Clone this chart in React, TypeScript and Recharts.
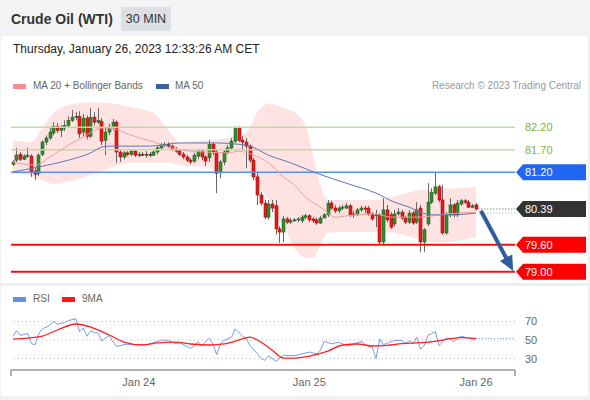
import React from 'react'
import { ComposedChart, Bar, Line, Area, XAxis, YAxis, ReferenceLine } from 'recharts'

// 30 min candles, index 0 = first bar on the left
const opens = [
  81.38, 81.47, 81.6, 81.49, 81.56, 81.56, 81.23, 81.18, 81.6, 81.87,
  81.96, 82.07, 82.22, 82.13, 82.18, 82.24, 82.35, 82.42, 82.44, 82.09,
  82.4, 82.0, 82.42, 82.31, 82.33, 81.91, 82.09, 82.2, 82.31, 81.65,
  81.54, 81.63, 81.6, 81.67, 81.58, 81.6, 81.58, 81.6, 81.58, 81.65,
  81.74, 81.8, 81.82, 81.78, 81.71, 81.67, 81.6, 81.54, 81.47, 81.45,
  81.56, 81.67, 81.54, 81.52, 81.82, 81.65, 81.21, 81.43, 81.65, 81.74,
  81.89, 82.18, 81.91, 81.87, 81.78, 81.47, 81.1, 80.7, 80.52, 80.21,
  80.5, 80.46, 79.95, 79.88, 80.17, 80.1, 80.13, 80.15, 80.13, 80.21,
  80.24, 80.17, 80.15, 80.08, 80.19, 80.26, 80.52, 80.41, 80.35, 80.41,
  80.41, 80.46, 80.28, 80.26, 80.37, 80.41, 80.41, 80.28, 80.24, 80.24,
  79.66, 80.37, 80.26, 80.06, 80.28, 80.32, 80.19, 80.1, 80.3, 80.1,
  80.41, 79.66, 80.06, 80.54, 80.74, 80.88, 80.59, 79.86, 80.26, 80.48,
  80.26, 80.5, 80.57, 80.54, 80.43, 80.48,
]
const highs = [
  81.47, 81.74, 81.65, 81.6, 81.74, 81.6, 81.29, 81.63, 81.91, 82.02,
  82.18, 82.31, 82.29, 82.24, 82.35, 82.44, 82.58, 82.53, 82.55, 82.49,
  82.46, 82.62, 82.53, 82.62, 82.4, 82.18, 82.27, 82.38, 82.35, 81.69,
  81.67, 81.67, 81.71, 81.71, 81.65, 81.65, 81.67, 81.65, 81.69, 81.78,
  81.85, 81.87, 81.87, 81.82, 81.76, 81.71, 81.65, 81.58, 81.52, 81.63,
  81.71, 81.71, 81.58, 81.91, 81.87, 81.69, 81.47, 81.69, 81.8, 81.96,
  82.22, 82.22, 82.0, 81.96, 81.82, 81.52, 81.18, 80.76, 80.59, 80.59,
  80.59, 80.59, 80.01, 80.24, 80.21, 80.19, 80.19, 80.21, 80.26, 80.28,
  80.28, 80.21, 80.19, 80.24, 80.3, 80.59, 80.57, 80.48, 80.46, 80.48,
  80.52, 80.5, 80.35, 80.41, 80.46, 80.46, 80.46, 80.32, 80.37, 80.3,
  80.63, 80.48, 80.32, 80.37, 80.41, 80.37, 80.24, 80.37, 80.35, 80.54,
  80.48, 79.97, 80.96, 80.85, 81.21, 80.92, 80.92, 80.32, 80.63, 80.52,
  80.59, 80.61, 80.61, 80.59, 80.5, 80.52,
]
const lows = [
  81.34, 81.43, 81.45, 81.47, 81.52, 81.1, 81.03, 81.12, 81.56, 81.8,
  81.91, 82.02, 82.07, 81.98, 82.11, 82.2, 82.31, 82.35, 81.96, 82.0,
  81.93, 81.96, 82.24, 82.27, 81.8, 81.58, 82.02, 82.13, 81.41, 81.43,
  81.49, 81.56, 81.56, 81.54, 81.54, 81.56, 81.52, 81.54, 81.56, 81.6,
  81.69, 81.76, 81.74, 81.67, 81.63, 81.56, 81.49, 81.43, 81.38, 81.41,
  81.49, 81.47, 81.34, 81.43, 81.58, 80.74, 81.07, 81.36, 81.6, 81.69,
  81.85, 81.87, 81.69, 81.29, 81.41, 81.03, 80.48, 80.46, 80.17, 80.15,
  80.32, 79.82, 79.64, 79.66, 80.06, 80.06, 80.1, 80.1, 80.08, 80.17,
  80.1, 80.08, 80.04, 80.06, 80.19, 80.21, 80.37, 80.3, 80.3, 80.37,
  80.39, 80.21, 80.19, 80.24, 80.32, 80.3, 80.24, 80.13, 79.99, 79.6,
  79.6, 80.1, 79.95, 80.01, 80.24, 80.15, 80.06, 80.06, 80.04, 80.06,
  79.44, 79.44, 80.01, 80.5, 80.7, 80.54, 79.82, 79.82, 80.21, 80.21,
  80.21, 80.46, 80.5, 80.41, 80.41, 80.35,
]
const closes = [
  81.43, 81.58, 81.49, 81.56, 81.58, 81.21, 81.16, 81.58, 81.87, 81.96,
  82.09, 82.22, 82.13, 82.18, 82.24, 82.35, 82.42, 82.44, 82.05, 82.4,
  82.0, 82.42, 82.31, 82.35, 81.89, 82.09, 82.2, 82.31, 81.65, 81.54,
  81.63, 81.6, 81.67, 81.58, 81.6, 81.58, 81.6, 81.58, 81.65, 81.74,
  81.8, 81.82, 81.78, 81.71, 81.67, 81.6, 81.54, 81.47, 81.43, 81.58,
  81.67, 81.54, 81.45, 81.82, 81.65, 81.18, 81.43, 81.65, 81.74, 81.89,
  82.18, 81.91, 81.87, 81.78, 81.47, 81.1, 80.7, 80.52, 80.21, 80.5,
  80.41, 79.95, 79.88, 80.17, 80.1, 80.13, 80.15, 80.17, 80.21, 80.24,
  80.15, 80.13, 80.08, 80.19, 80.26, 80.52, 80.41, 80.35, 80.41, 80.43,
  80.46, 80.26, 80.26, 80.37, 80.41, 80.39, 80.28, 80.17, 80.26, 79.66,
  80.37, 80.15, 79.99, 80.28, 80.32, 80.19, 80.1, 80.3, 80.08, 80.37,
  79.66, 79.93, 80.54, 80.76, 80.88, 80.59, 79.86, 80.26, 80.48, 80.26,
  80.52, 80.57, 80.54, 80.43, 80.46, 80.39,
]

// Bollinger bands (MA 20 +/- 2 sd), read at some bars
const bandIdx = [0, 5, 8, 11, 15, 21, 26, 32, 38, 42, 45, 52, 58, 63, 66, 69, 73, 76, 79, 81, 83, 85, 90, 98, 103, 110, 115, 120, 125]
const bandUpper = [81.91, 81.87, 82.18, 82.51, 82.69, 82.75, 82.73, 82.64, 82.51, 82.13, 81.87, 81.91, 81.96, 82.09, 82.53, 82.73, 82.62, 82.53, 82.24, 81.58, 80.92, 80.59, 80.59, 80.59, 80.68, 80.81, 80.85, 80.85, 80.88]
const bandLower = [81.18, 81.12, 81.03, 80.94, 80.99, 81.14, 81.29, 81.41, 81.41, 81.41, 81.36, 81.32, 81.23, 81.21, 80.92, 80.59, 80.04, 79.53, 79.31, 79.31, 79.6, 79.86, 79.88, 79.88, 79.86, 79.71, 79.64, 79.69, 79.77]

const ma20Idx = [0, 6, 10, 15, 19, 24, 26, 32, 38, 42, 46, 52, 58, 61, 65, 69, 73, 76, 79, 82, 84, 87, 92, 98, 102, 110, 115, 120, 125]
const ma20Vals = [81.43, 81.36, 81.54, 81.8, 81.98, 82.18, 82.18, 82.02, 81.87, 81.76, 81.69, 81.65, 81.63, 81.67, 81.58, 81.41, 81.1, 80.92, 80.65, 80.48, 80.37, 80.21, 80.26, 80.28, 80.21, 80.21, 80.26, 80.3, 80.32]

const ma50Idx = [0, 7, 15, 21, 24, 26, 37, 45, 55, 61, 64, 69, 75, 82, 90, 98, 103, 107, 110, 113, 118, 125]
const ma50Vals = [81.21, 81.32, 81.47, 81.63, 81.76, 81.78, 81.78, 81.85, 81.85, 81.82, 81.78, 81.58, 81.41, 81.18, 80.96, 80.74, 80.54, 80.43, 80.32, 80.26, 80.26, 80.3]

const rsiIdx = [0, 1, 2, 3, 4, 5, 6, 7, 8, 9, 10, 11, 12, 13, 14, 15, 17, 18, 19, 20, 21, 22, 23, 24, 25, 26, 27, 28, 30, 31, 33, 36, 38, 40, 42, 44, 45, 48, 49, 50, 51, 53, 54, 55, 56, 57, 59, 60, 62, 63, 64, 66, 67, 68, 69, 70, 71, 73, 76, 78, 80, 82, 83, 84, 86, 88, 90, 91, 92, 94, 96, 97, 98, 99, 100, 103, 105, 106, 107, 108, 109, 110, 111, 112, 113, 114, 115, 117, 118, 119, 120, 121, 123, 124, 125]
const rsiVals = [54, 60, 55, 56, 57, 46, 45, 57, 62, 64, 66, 70, 67, 68, 69, 71, 73, 59, 63, 54, 60, 58, 57.5, 49, 52, 55, 48, 43, 45, 45, 45, 45, 47, 50, 49.5, 46, 47, 41, 44, 48, 44, 52, 46, 34, 46, 49.5, 53, 62, 54, 51.5, 44, 35, 30, 28, 33, 30, 27, 33.5, 33, 35, 37, 35, 39, 48.5, 46, 47.5, 44, 44, 46, 48.5, 42.5, 42.5, 30, 51, 45, 49.5, 49.5, 46, 49.5, 46, 53, 40, 44, 55, 57, 59, 44, 52, 51.5, 48, 52, 54, 52, 51, 51.5]

const ma9Idx = [0, 8, 12, 17, 21, 26, 30, 35, 39, 44, 48, 53, 57, 62, 64, 66, 67, 69, 70, 73, 76, 80, 85, 89, 93, 97, 101, 105, 110, 114, 118, 121, 125]
const ma9Vals = [51, 54.3, 60.8, 67.3, 64, 55.4, 47.8, 44.6, 46.8, 47.8, 45.7, 44.6, 45.7, 51.1, 53.2, 50, 47.5, 42, 39, 30.5, 30.5, 32.7, 38.1, 44.6, 45.7, 43.5, 44.2, 46, 47.1, 48.6, 51.4, 52.5, 51.4]

const levels = [82.2, 81.7, 81.2, 80.39, 79.6, 79.0]
const levelLabels = ['82.20', '81.70', '81.20', '80.39', '79.60', '79.00']
const dayTicks = [34, 80, 125]
const dayLabels = ['Jan 24', 'Jan 25', 'Jan 26']
const rsiTicks = [70, 50, 30]
const lastRsi = 51.5
const arrowFrom = { x: 126.3, y: 80.35 }
const arrowTo = { x: 135, y: 79.02 }

const candles = closes.map((c, i) => ({ i, open: opens[i], high: highs[i], low: lows[i], close: c }))
const bandData = bandIdx.map((i, k) => ({ i, band: [bandLower[k], bandUpper[k]] }))
const ma20Data = ma20Idx.map((i, k) => ({ i, ma: ma20Vals[k] }))
const ma50Data = ma50Idx.map((i, k) => ({ i, ma: ma50Vals[k] }))
const rsiData = rsiIdx.map((i, k) => ({ i, rsi: rsiVals[k] }))
const ma9Data = ma9Idx.map((i, k) => ({ i, ma: ma9Vals[k] }))

const X_DOMAIN: [number, number] = [-0.5, 135.5]
const FONT = '"Liberation Sans", Arial, sans-serif'

// colour of the level lines / tags, same order as levels
const LEVEL_LINE = ['#c3dba3', '#c3dba3', '#5b8ff0', 'none', '#f01010', '#f01010']
const LEVEL_TAG = ['', '', '#1f66f0', '#333333', '#ff0000', '#ff0000']

function Candle(props: any) {
  const { x, y, width, height, payload } = props
  if (!payload) return null
  const { open, close, high, low } = payload
  const cx = Math.round(x + width / 2) + 0.5
  const k = high - low > 0 ? height / (high - low) : 0
  const yO = y + (high - open) * k
  const yC = y + (high - close) * k
  const up = close >= open
  return (
    <g>
      <line x1={cx} x2={cx} y1={y} y2={y + height} stroke="#666" strokeWidth={1} />
      <rect
        x={cx - 1.5}
        y={Math.min(yO, yC)}
        width={3}
        height={Math.max(1, Math.abs(yC - yO))}
        fill={up ? '#2e8f2e' : '#e81a1a'}
        stroke={up ? '#1e5e1e' : '#a80c0c'}
        strokeWidth={0.6}
      />
    </g>
  )
}

function LevelTick(props: any) {
  const { x, y, index } = props
  const tag = LEVEL_TAG[index]
  const label = levelLabels[index]
  if (!tag) {
    return (
      <text x={x + 10} y={y + 4} fontSize={11} fontFamily={FONT} fill="#79b33c">
        {label}
      </text>
    )
  }
  return (
    <g>
      <polygon points={`${x + 1},${y} ${x + 8},${y - 8} ${x + 71},${y - 8} ${x + 71},${y + 8} ${x + 8},${y + 8}`} fill={tag} />
      <text x={x + 10} y={y + 4} fontSize={11} fontFamily={FONT} fill="#fff">
        {label}
      </text>
    </g>
  )
}

function Arrow(props: any) {
  const { x1, y1, x2, y2 } = props
  const dx = x2 - x1
  const dy = y2 - y1
  const len = Math.hypot(dx, dy) || 1
  const ux = dx / len
  const uy = dy / len
  const head = 15
  const half = 7
  const bx = x2 - ux * head
  const by = y2 - uy * head
  return (
    <g>
      <line x1={x1} y1={y1} x2={bx + ux * 2} y2={by + uy * 2} stroke="#2f5d9b" strokeWidth={4} />
      <polygon points={`${x2},${y2} ${bx - uy * half},${by + ux * half} ${bx + uy * half},${by - ux * half}`} fill="#2f5d9b" />
    </g>
  )
}

function RsiTick(props: any) {
  const { x, y, payload } = props
  return (
    <text x={x + 10} y={y + 4} fontSize={11} fontFamily={FONT} fill="#666">
      {payload.value}
    </text>
  )
}

function DayTick(props: any) {
  const { x, y, payload } = props
  const k = dayTicks.indexOf(payload.value)
  if (k < 0) {
    return <line x1={x} x2={x} y1={y} y2={y + 6} stroke="#999" strokeWidth={1.5} />
  }
  return (
    <text x={x} y={y + 16} textAnchor="middle" fontSize={11} fontFamily={FONT} fill="#666">
      {dayLabels[k]}
    </text>
  )
}

const swatch = (color: string, left: number, top: number): React.CSSProperties => ({
  position: 'absolute',
  left,
  top,
  width: 13,
  height: 5,
  background: color,
})

const text = (left: number, top: number, size: number, color: string, extra: React.CSSProperties = {}): React.CSSProperties => ({
  position: 'absolute',
  left,
  top,
  fontSize: size,
  lineHeight: `${size}px`,
  color,
  whiteSpace: 'nowrap',
  ...extra,
})

export default function App() {
  return (
    <div style={{ position: 'relative', width: 590, height: 400, background: '#eef0f1', fontFamily: FONT, overflow: 'hidden' }}>
      <style>{'body{margin:0}'}</style>

      {/* header */}
      <div style={{ position: 'absolute', left: 0, top: 0, width: 590, height: 36, background: '#f2f3f4' }} />
      <div style={text(11, 12, 14, '#333', { fontWeight: 'bold' })}>Crude Oil (WTI)</div>
      <div
        style={{
          position: 'absolute',
          left: 121,
          top: 7,
          width: 50,
          height: 24,
          background: '#dcdfe3',
          fontSize: 12.5,
          lineHeight: '24px',
          textAlign: 'center',
          color: '#333',
        }}
      >
        30 MIN
      </div>

      {/* price panel */}
      <div style={{ position: 'absolute', left: 1, top: 36, width: 587, height: 247, background: '#fff' }} />
      <div style={text(13, 43, 12, '#222')}>Thursday, January 26, 2023 12:33:26 AM CET</div>
      <div style={swatch('#ff8a8a', 13, 84)} />
      <div style={text(33, 81, 10, '#666')}>MA 20 + Bollinger Bands</div>
      <div style={swatch('#3a5f9f', 156, 84)} />
      <div style={text(175, 81, 10, '#666')}>MA 50</div>
      <div style={text(0, 81, 10, '#999', { left: 'auto', right: 9 })}>Research © 2023 Trading Central</div>

      <div style={{ position: 'absolute', left: 0, top: 36 }}>
        <ComposedChart width={590} height={247} data={candles} margin={{ top: 64, right: 0, bottom: 3, left: 11 }}>
          <XAxis type="number" dataKey="i" domain={X_DOMAIN} hide />
          <YAxis
            orientation="right"
            width={75}
            domain={[78.82, 82.8]}
            ticks={levels}
            interval={0}
            axisLine={false}
            tickLine={false}
            tickSize={0}
            tickMargin={0}
            tick={<LevelTick />}
          />
          <Area
            data={bandData}
            dataKey="band"
            type="monotone"
            stroke="none"
            fill="#ffdede"
            fillOpacity={0.85}
            isAnimationActive={false}
          />
          {levels.map((v, k) =>
            LEVEL_LINE[k] === 'none' ? null : (
              <ReferenceLine key={v} y={v} stroke={LEVEL_LINE[k]} strokeWidth={k >= 4 ? 2 : 1.5} />
            )
          )}
          <Line data={ma20Data} dataKey="ma" type="monotone" stroke="#f59b9b" strokeWidth={1} dot={false} isAnimationActive={false} />
          <Line data={ma50Data} dataKey="ma" type="monotone" stroke="#5a78b5" strokeWidth={1} dot={false} isAnimationActive={false} />
          <Bar
            dataKey={(d: any) => [d.low, d.high]}
            barSize={3}
            shape={(p: any) => <Candle {...p} />}
            isAnimationActive={false}
          />
          <ReferenceLine
            segment={[{ x: 125.6, y: closes[closes.length - 1] }, { x: X_DOMAIN[1], y: closes[closes.length - 1] }]}
            stroke="#555"
            strokeDasharray="1 2"
          />
          <ReferenceLine
            segment={[{ x: 125.6, y: ma50Vals[ma50Vals.length - 1] }, { x: X_DOMAIN[1], y: ma50Vals[ma50Vals.length - 1] }]}
            stroke="#8aa2cc"
            strokeDasharray="1 2"
          />
          <ReferenceLine segment={[arrowFrom, arrowTo]} shape={(p: any) => <Arrow {...p} />} />
        </ComposedChart>
      </div>

      {/* RSI panel */}
      <div style={{ position: 'absolute', left: 1, top: 286, width: 587, height: 110, background: '#fff' }} />
      <div style={swatch('#6a8ee8', 13, 297)} />
      <div style={text(33, 294, 10, '#666')}>RSI</div>
      <div style={swatch('#ff1a1a', 62, 297)} />
      <div style={text(82, 294, 10, '#666')}>9MA</div>

      <div style={{ position: 'absolute', left: 0, top: 290 }}>
        <ComposedChart width={590} height={105} data={rsiData} margin={{ top: 15, right: 0, bottom: 0, left: 11 }}>
          <XAxis
            type="number"
            dataKey="i"
            domain={X_DOMAIN}
            ticks={[X_DOMAIN[0], ...dayTicks, X_DOMAIN[1]]}
            interval={0}
            height={25}
            axisLine={{ stroke: '#999', strokeWidth: 1.5 }}
            tickLine={false}
            tickSize={0}
            tickMargin={0}
            tick={<DayTick />}
          />
          <YAxis
            orientation="right"
            width={75}
            domain={[17.6, 87.8]}
            ticks={rsiTicks}
            interval={0}
            axisLine={false}
            tickLine={false}
            tickSize={0}
            tickMargin={0}
            tick={<RsiTick />}
          />
          {rsiTicks.map((v) => (
            <ReferenceLine key={v} y={v} stroke="#bbb" strokeDasharray="1 3" />
          ))}
          <ReferenceLine
            segment={[{ x: 125, y: lastRsi }, { x: X_DOMAIN[1], y: lastRsi }]}
            stroke="#6a8ee8"
            strokeDasharray="1 2"
          />
          <Line dataKey="rsi" type="linear" stroke="#7a9bea" strokeWidth={1} dot={false} isAnimationActive={false} />
          <Line data={ma9Data} dataKey="ma" type="monotone" stroke="#ff2020" strokeWidth={1.3} dot={false} isAnimationActive={false} />
        </ComposedChart>
      </div>
    </div>
  )
}
